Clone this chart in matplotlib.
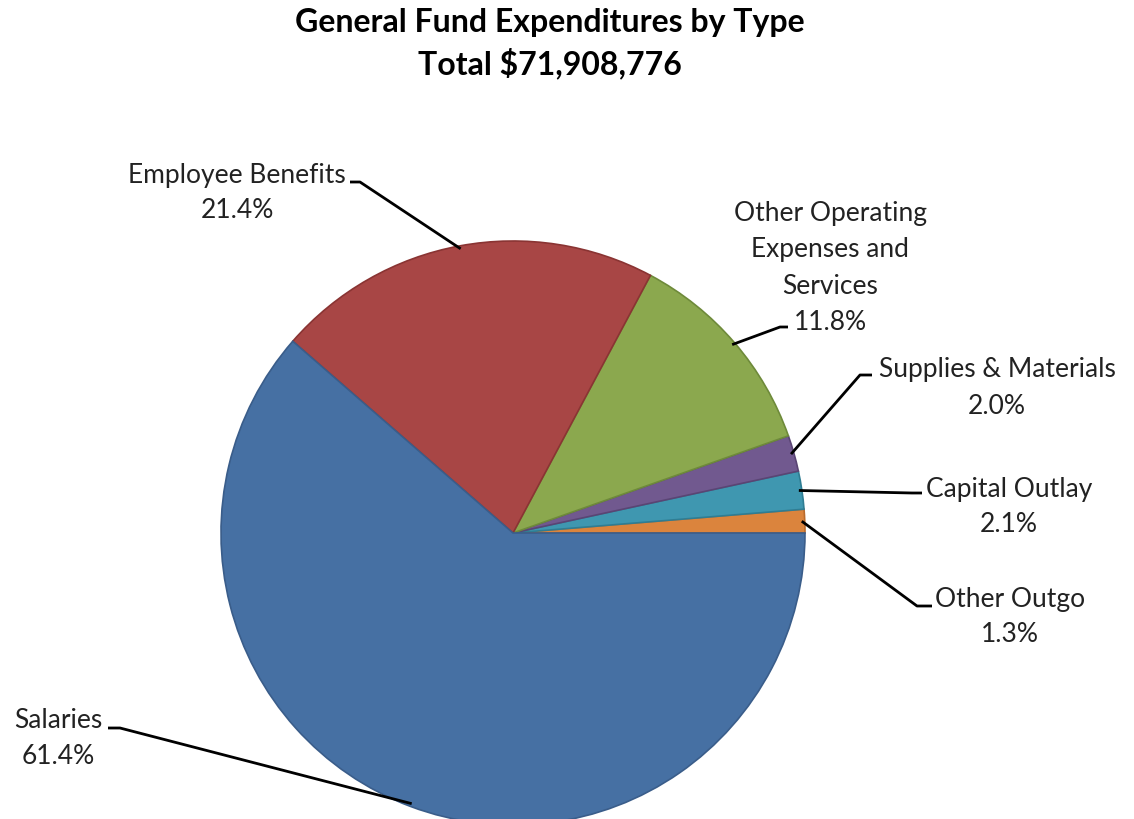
import numpy as np
import matplotlib.pyplot as plt

# slices in drawing order, counter-clockwise from 3 o'clock
names = ['Other Outgo', 'Capital Outlay', 'Supplies & Materials',
         'Other Operating\nExpenses and\nServices', 'Employee Benefits', 'Salaries']
shares = [1.3, 2.1, 2.0, 11.8, 21.4, 61.4]
colors = ['#DB843D', '#3F97B0', '#71598F', '#8BA84E', '#A84645', '#4670A3']
edges = ['#B86A2C', '#2F7D93', '#5A4574', '#6E8A3A', '#8A3433', '#3A5D8A']

# label block centres and where each leader line leaves its label (pixels, y down)
label_pos = [(1010, 617), (1009, 507), (997, 388), (830, 268), (237, 193), (58, 738)]
leader_start = [[(932, 606), (917, 606)], [(922, 493), (912, 493)],
                [(872, 375), (860, 375)], [(788, 327), (780, 327)],
                [(350, 182), (360, 182)], [(108, 728), (120, 728)]]

W, H = 1134, 819
cx, cy, r = 513, 533, 292

plt.rcParams['font.family'] = ['Lato', 'DejaVu Sans']
fig = plt.figure(figsize=(W / 100, H / 100), dpi=100)
ax = fig.add_axes([0, 0, 1, 1])

wedges, _ = ax.pie(shares, colors=colors, startangle=0, counterclock=True,
                   center=(cx, H - cy), radius=r,
                   wedgeprops=dict(linewidth=1.2))
for w, ec in zip(wedges, edges):
    w.set_edgecolor(ec)

# pie() resets the view, so fix the pixel frame afterwards
ax.set_xlim(0, W)
ax.set_ylim(0, H)
ax.set_aspect('equal')
ax.axis('off')

cum = np.cumsum([0] + shares)
for i, (name, v) in enumerate(zip(names, shares)):
    mid = np.deg2rad((cum[i] + v / 2) / 100 * 360)
    ex = cx + (r - 3) * np.cos(mid)
    ey = cy - (r - 3) * np.sin(mid)
    pts = leader_start[i] + [(ex, ey)]
    xs = [p[0] for p in pts]
    ys = [H - p[1] for p in pts]
    ax.plot(xs, ys, color='black', lw=2, solid_capstyle='butt', zorder=3)
    lx, ly = label_pos[i]
    ax.text(lx, H - ly, f'{name}\n{v:.1f}%', ha='center', va='center',
            fontsize=19, color='#222222', linespacing=1.55)

ax.text(550, H - 44, 'General Fund Expenditures by Type\nTotal $71,908,776',
        ha='center', va='center', fontsize=23, fontweight='bold',
        linespacing=1.4)

fig.savefig('out.png', dpi=100)
